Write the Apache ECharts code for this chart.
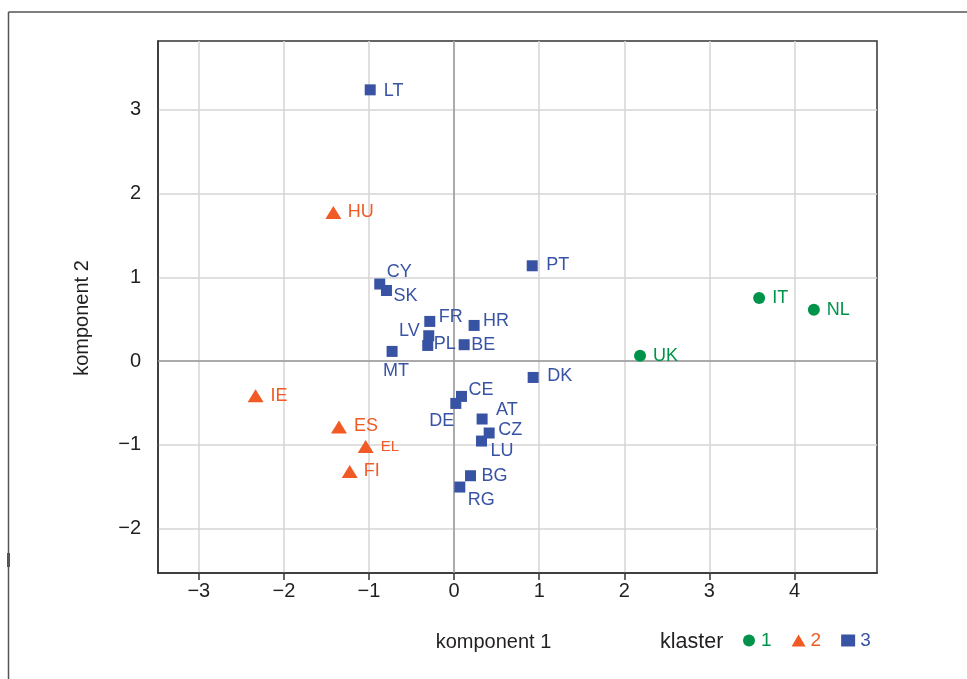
<!DOCTYPE html>
<html>
<head>
<meta charset="utf-8">
<script src="https://cdn.jsdelivr.net/npm/echarts@6/dist/echarts.min.js"></script>
<style>html,body{margin:0;padding:0;background:#fff}#chart{width:967px;height:679px}</style>
</head>
<body>
<div id="chart"></div>
<script>
// ---- data ----
const cluster1Names = ['UK', 'IT', 'NL'];
const cluster1X = [2.185, 3.585, 4.228];
const cluster1Y = [0.063, 0.752, 0.612];

const cluster2Names = ['HU', 'IE', 'ES', 'EL', 'FI'];
const cluster2X = [-1.419, -2.333, -1.353, -1.039, -1.227];
const cluster2Y = [1.773, -0.414, -0.788, -1.019, -1.317];

const cluster3Names = ['LT', 'CY', 'SK', 'FR', 'HR', 'LV', 'PL', 'BE', 'MT', 'PT', 'DK', 'CE', 'DE', 'AT', 'CZ', 'LU', 'BG', 'RG'];
const cluster3X = [-0.986, -0.874, -0.795, -0.286, 0.235, -0.298, -0.310, 0.118, -0.729, 0.918, 0.929, 0.087, 0.020, 0.329, 0.412, 0.322, 0.193, 0.067];
const cluster3Y = [3.237, 0.919, 0.842, 0.473, 0.425, 0.302, 0.186, 0.195, 0.115, 1.137, -0.196, -0.422, -0.506, -0.692, -0.859, -0.955, -1.369, -1.504];

const xTicks = [-3, -2, -1, 0, 1, 2, 3, 4];
const yTicks = [-2, -1, 0, 1, 2, 3];
const clusterNames = ['1', '2', '3'];

// ---- styles ----
const FONT = '"Liberation Sans", Arial, Helvetica, sans-serif';
const TXT = '#231f20';
const colors = ['#00934a', '#f15a24', '#3953a4'];
const labelPlace = {
  LT: ['right', [3, 1]], CY: ['right', [-3.5, -12]], SK: ['right', [-3.5, 6]],
  FR: ['right', [-1.5, -4]], HR: ['right', [-1.5, -4]], LV: ['left', [1.5, -5]],
  PL: ['right', [-4.5, -1]], BE: ['right', [-3.5, 0]], MT: ['bottom', [4, 0]],
  PT: ['right', [3.5, -1]], DK: ['right', [3.5, -1.5]], CE: ['right', [-3.5, -6]],
  DE: ['bottom', [-14, -1.5]], AT: ['right', [3.5, -8.5]], CZ: ['right', [-1.5, -3.3]],
  LU: ['right', [-1.5, 9.7]], BG: ['right', [0.5, 0]], RG: ['right', [-2.5, 12.7]],
  HU: ['right', [1.5, 0]], IE: ['right', [2, 0]], ES: ['right', [2, -0.6]],
  EL: ['right', [2, 0.5]], FI: ['right', [1, -0.7]],
  IT: ['right', [2, 0]], NL: ['right', [2, 0.7]], UK: ['right', [2, 0]]
};
const labelSize = { EL: 15 };

function buildData(names, xs, ys, color) {
  return names.map(function (n, i) {
    const p = labelPlace[n] || ['right', [0, 0]];
    return {
      name: n,
      value: [xs[i], ys[i]],
      label: {
        show: true, position: p[0], offset: p[1], distance: 5,
        formatter: '{b}', color: color, fontSize: labelSize[n] || 18, fontFamily: FONT
      }
    };
  });
}

const chart = echarts.init(document.getElementById('chart'), null, { renderer: 'canvas' });

const option = {
  backgroundColor: '#fff',
  animation: false,
  textStyle: { fontFamily: FONT },
  grid: {
    left: 158, right: 90, top: 41, bottom: 106,
    show: true, borderColor: '#333', borderWidth: 1.5, backgroundColor: 'transparent'
  },
  xAxis: {
    type: 'value', min: -3.48, max: 4.97, splitNumber: 8,
    name: 'komponent 1', nameLocation: 'middle', nameGap: 59,
    nameTextStyle: { color: TXT, fontSize: 20, fontFamily: FONT, padding: [0, 48, 0, 0] },
    axisLine: { show: true, onZero: false, lineStyle: { color: '#333', width: 1.5 } },
    axisTick: { show: true, length: 7, inside: false, lineStyle: { color: '#333', width: 1.5 }, customValues: xTicks },
    axisLabel: {
      color: TXT, fontSize: 20, fontFamily: FONT, margin: 8, customValues: xTicks,
      formatter: function (v) { return v < 0 ? '\u2212' + Math.abs(v) : String(v); }
    },
    splitLine: { show: true, lineStyle: { color: '#d4d4d4', width: 1.5 } }
  },
  yAxis: {
    type: 'value', min: -2.53, max: 3.82, splitNumber: 6,
    name: 'komponent 2', nameLocation: 'middle', nameGap: 66, nameRotate: 90,
    nameTextStyle: { color: TXT, fontSize: 20, fontFamily: FONT, padding: [0, 22, 0, 0] },
    axisLine: { show: true, onZero: false, lineStyle: { color: '#333', width: 1.5 } },
    axisTick: { show: false, customValues: yTicks },
    axisLabel: {
      color: TXT, fontSize: 20, fontFamily: FONT, margin: 17, customValues: yTicks,
      formatter: function (v) { return v < 0 ? '\u2212' + Math.abs(v) : String(v); }
    },
    splitLine: { show: true, lineStyle: { color: '#d4d4d4', width: 1.5 } }
  },
  legend: {
    show: true, left: 738, top: 626, orient: 'horizontal',
    itemWidth: 14, itemHeight: 12, itemGap: 20,
    textStyle: { fontSize: 19, fontFamily: FONT },
    data: clusterNames.map(function (n, i) { return { name: n, textStyle: { color: colors[i] } }; })
  },
  graphic: [
    { type: 'line', shape: { x1: 8.5, y1: 12, x2: 967, y2: 12 }, style: { stroke: '#555', lineWidth: 1.5 }, silent: true },
    { type: 'line', shape: { x1: 8.5, y1: 12, x2: 8.5, y2: 679 }, style: { stroke: '#555', lineWidth: 1.5 }, silent: true },
    { type: 'line', shape: { x1: 8.5, y1: 553, x2: 8.5, y2: 567 }, style: { stroke: '#555', lineWidth: 3 }, silent: true },
    { type: 'text', left: 660, top: 631, style: { text: 'klaster', fill: TXT, fontSize: 21.5, fontFamily: FONT } }
  ],
  series: [
    {
      name: clusterNames[0], type: 'scatter', symbol: 'circle', symbolSize: 12,
      itemStyle: { color: colors[0], opacity: 1 },
      data: buildData(cluster1Names, cluster1X, cluster1Y, colors[0]),
      z: 5
    },
    {
      name: clusterNames[1], type: 'scatter', symbol: 'triangle', symbolSize: [16, 13],
      itemStyle: { color: colors[1], opacity: 1 },
      data: buildData(cluster2Names, cluster2X, cluster2Y, colors[1]),
      z: 5
    },
    {
      name: clusterNames[2], type: 'scatter', symbol: 'rect', symbolSize: 11,
      itemStyle: { color: colors[2], opacity: 1 },
      data: buildData(cluster3Names, cluster3X, cluster3Y, colors[2]),
      z: 5,
      markLine: {
        silent: true, symbol: 'none', animation: false,
        label: { show: false },
        lineStyle: { color: '#9a9a9a', width: 1.5, type: 'solid' },
        data: [{ xAxis: 0 }, { yAxis: 0 }],
        z: 1
      }
    }
  ]
};
chart.setOption(option);
</script>
</body>
</html>
